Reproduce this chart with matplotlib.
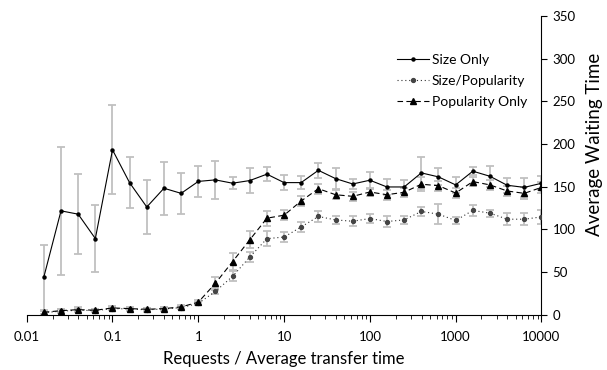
import matplotlib
matplotlib.use('Agg')
import matplotlib.pyplot as plt
from matplotlib.ticker import FixedLocator, LogLocator, NullFormatter

plt.rcParams['font.family'] = ['Lato', 'DejaVu Sans']

# x: requests / average transfer time (log axis)
x = [0.0158, 0.0251, 0.0398, 0.0631, 0.1, 0.158, 0.251, 0.398, 0.631, 1,
     1.58, 2.51, 3.98, 6.31, 10, 15.8, 25.1, 39.8, 63.1, 100,
     158, 251, 398, 631, 1000, 1585, 2512, 3981, 6310, 10000]

size_only = [43.5, 121.5, 117.6, 89, 193, 154.6, 126, 148, 142, 156,
             157.8, 153.9, 157, 164.5, 154.6, 154.6, 169, 159.3, 153, 157.4,
             149.5, 149.5, 166, 161.3, 151.9, 168, 162, 151.5, 149, 153.8]
size_only_err = [38, 75, 47, 39, 52, 30, 32, 31, 24, 18,
                 22, 7, 15, 8, 9, 8, 9, 12, 6, 10,
                 9, 8, 19, 10, 9, 5, 12, 9, 11, 8]

size_pop = [2, 4, 5, 4.5, 7, 6.5, 5.5, 6.5, 8, 13,
            27, 44.7, 67.3, 88.9, 90.8, 102.6, 114.9, 110.9, 109.3, 112.5,
            109, 110.9, 120.8, 117.6, 110.2, 122, 118.8, 111.7, 111.7, 114.4]
size_pop_err = [2, 2, 2, 2, 2, 2, 2, 2, 2, 2,
                3.5, 6, 6, 9, 6, 6, 6, 5, 6, 5,
                6, 5, 5.5, 12, 4, 6, 4, 7, 7, 8]

pop_only = [2.6, 4.5, 5.7, 5, 7.7, 6.9, 6.1, 6.9, 8.9, 14.4,
            36.5, 62, 87.5, 112.9, 116.4, 133, 147.5, 140.4, 138.5, 143.6,
            140.4, 143.3, 152.7, 151, 142.4, 155.8, 151.9, 144.8, 142, 149]
pop_only_err = [2, 2, 3, 2, 2, 2, 2, 2, 2, 3,
                8, 10, 10, 9, 6, 6, 6, 5, 5, 5,
                6, 5, 8, 6, 6, 5, 6, 6, 7, 6]

xticks = [0.01, 0.1, 1, 10, 100, 1000, 10000]
xtick_labels = ['0.01', '0.1', '1', '10', '100', '1000', '10000']
yticks = [0, 50, 100, 150, 200, 250, 300, 350]

fig = plt.figure(figsize=(6.07, 3.70), dpi=100)
ax = fig.add_axes([0.044, 0.15, 0.848, 0.807])

err_color = '#c0c0c0'
for ys, es in [(size_only, size_only_err), (size_pop, size_pop_err), (pop_only, pop_only_err)]:
    ax.errorbar(x, ys, yerr=es, fmt='none', ecolor=err_color, elinewidth=1.3,
                capsize=3, capthick=1.3, zorder=1)

ax.plot(x, size_only, color='black', lw=0.8, ls='-', marker='o', ms=2.2,
        label='Size Only', zorder=3)
ax.plot(x, size_pop, color='#333333', lw=0.8, ls=(0, (1, 2.5)), marker='o', ms=2.8,
        mfc='#444444', mec='#444444', label='Size/Popularity', zorder=3)
ax.plot(x, pop_only, color='black', lw=0.8, ls=(0, (5, 3)), marker='^', ms=4.5,
        label='Popularity Only', zorder=3)

ax.set_xscale('log')
ax.set_xlim(0.01, 10000)
ax.set_ylim(0, 350)

ax.xaxis.set_major_locator(FixedLocator(xticks))
ax.set_xticklabels(xtick_labels)
ax.xaxis.set_minor_locator(LogLocator(base=10, subs=range(2, 10)))
ax.xaxis.set_minor_formatter(NullFormatter())
ax.set_yticks(yticks)

ax.spines['top'].set_visible(False)
ax.spines['left'].set_visible(False)
ax.yaxis.tick_right()
ax.yaxis.set_label_position('right')
ax.tick_params(axis='y', which='both', direction='out', length=4, labelsize=9.5, pad=4)
ax.tick_params(axis='x', which='major', direction='out', length=5, labelsize=9.5, pad=7)
ax.tick_params(axis='x', which='minor', direction='out', length=3)

ax.set_xlabel('Requests / Average transfer time', fontsize=12, va='center')
ax.xaxis.set_label_coords(0.5, -0.149)
ax.set_ylabel('Average Waiting Time', fontsize=13.5, rotation=90, va='center')
ax.yaxis.set_label_coords(1.104, 0.57)

ax.legend(loc='upper left', bbox_to_anchor=(0.695, 0.915), frameon=False,
          fontsize=10, handlelength=2.3, handletextpad=0.2, labelspacing=0.65)

fig.savefig('out.png', dpi=100)
